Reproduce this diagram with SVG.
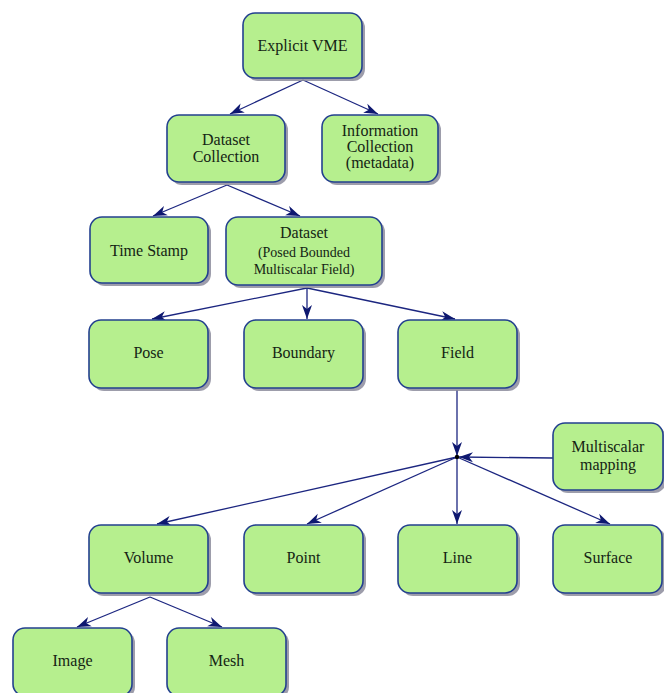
<svg xmlns="http://www.w3.org/2000/svg" width="664" height="693" viewBox="0 0 664 693">
<style>
.sh{fill:#8c8c9c;opacity:0.85}
.bx{fill:#b6ef8e;stroke:#23408f;stroke-width:1.6}
.t{font-family:"Liberation Serif","Times New Roman",serif;font-size:16px;fill:#142414;text-anchor:middle}
.s{font-size:14px}
.c{fill:none;stroke:#1c2680;stroke-width:1.3}
</style>
<defs>
<marker id="ah" markerUnits="userSpaceOnUse" markerWidth="16" markerHeight="12" refX="14" refY="6" orient="auto">
<path d="M0,1 L14,6 L0,11 L4,6 z" fill="#0e1870"/>
</marker>
</defs>
<rect width="664" height="693" fill="#ffffff"/>
<g id="connectors">
<path class="c" d="M303,80 L230,114" marker-end="url(#ah)"/>
<path class="c" d="M303,80 L378,114" marker-end="url(#ah)"/>
<path class="c" d="M227,185 L153,216" marker-end="url(#ah)"/>
<path class="c" d="M227,185 L300,216" marker-end="url(#ah)"/>
<path class="c" d="M307,288 L152,319" marker-end="url(#ah)"/>
<path class="c" d="M307,288 L307,319" marker-end="url(#ah)"/>
<path class="c" d="M307,288 L455,319" marker-end="url(#ah)"/>
<path class="c" d="M457,390 L457,456" marker-end="url(#ah)"/>
<path class="c" d="M553,458 L459,457" marker-end="url(#ah)"/>
<path class="c" d="M457,457 L157,524" marker-end="url(#ah)"/>
<path class="c" d="M457,457 L307,524" marker-end="url(#ah)"/>
<path class="c" d="M457,457 L457,524" marker-end="url(#ah)"/>
<path class="c" d="M457,457 L610,524" marker-end="url(#ah)"/>
<path class="c" d="M150,597 L77,627" marker-end="url(#ah)"/>
<path class="c" d="M150,597 L222,627" marker-end="url(#ah)"/>
<circle cx="457" cy="457" r="2.2" fill="#000"/>
</g>
<g id="explicit-vme">
<rect class="sh" x="246" y="16" width="119" height="65" rx="12"/>
<rect class="bx" x="243" y="13" width="119" height="65" rx="12"/>
<text class="t" x="302.5" y="51">Explicit VME</text>
</g>
<g id="dataset-collection">
<rect class="sh" x="170" y="118" width="118" height="67" rx="12"/>
<rect class="bx" x="167" y="115" width="118" height="67" rx="12"/>
<text class="t" x="226" y="145">Dataset</text>
<text class="t" x="226" y="162">Collection</text>
</g>
<g id="information-collection">
<rect class="sh" x="325" y="118" width="116" height="67" rx="12"/>
<rect class="bx" x="322" y="115" width="116" height="67" rx="12"/>
<text class="t" x="380" y="136">Information</text>
<text class="t" x="380" y="152">Collection</text>
<text class="t" x="380" y="168">(metadata)</text>
</g>
<g id="time-stamp">
<rect class="sh" x="93" y="220" width="118" height="66" rx="12"/>
<rect class="bx" x="90" y="217" width="118" height="66" rx="12"/>
<text class="t" x="149" y="256">Time Stamp</text>
</g>
<g id="dataset">
<rect class="sh" x="229" y="220" width="156" height="68" rx="12"/>
<rect class="bx" x="226" y="217" width="156" height="68" rx="12"/>
<text class="t" x="304" y="238">Dataset</text>
<text class="t s" x="304" y="257">(Posed Bounded</text>
<text class="t s" x="304" y="274">Multiscalar Field)</text>
</g>
<g id="pose">
<rect class="sh" x="92" y="323" width="119" height="68" rx="12"/>
<rect class="bx" x="89" y="320" width="119" height="68" rx="12"/>
<text class="t" x="148.5" y="358">Pose</text>
</g>
<g id="boundary">
<rect class="sh" x="247" y="323" width="119" height="68" rx="12"/>
<rect class="bx" x="244" y="320" width="119" height="68" rx="12"/>
<text class="t" x="303.5" y="358">Boundary</text>
</g>
<g id="field">
<rect class="sh" x="401" y="323" width="119" height="68" rx="12"/>
<rect class="bx" x="398" y="320" width="119" height="68" rx="12"/>
<text class="t" x="457.5" y="358">Field</text>
</g>
<g id="multiscalar-mapping">
<rect class="sh" x="556" y="426" width="110" height="67" rx="12"/>
<rect class="bx" x="553" y="423" width="110" height="67" rx="12"/>
<text class="t" x="608" y="452">Multiscalar</text>
<text class="t" x="608" y="470">mapping</text>
</g>
<g id="volume">
<rect class="sh" x="92" y="528" width="119" height="68" rx="12"/>
<rect class="bx" x="89" y="525" width="119" height="68" rx="12"/>
<text class="t" x="148.5" y="563">Volume</text>
</g>
<g id="point">
<rect class="sh" x="247" y="528" width="119" height="68" rx="12"/>
<rect class="bx" x="244" y="525" width="119" height="68" rx="12"/>
<text class="t" x="303.5" y="563">Point</text>
</g>
<g id="line">
<rect class="sh" x="401" y="528" width="119" height="68" rx="12"/>
<rect class="bx" x="398" y="525" width="119" height="68" rx="12"/>
<text class="t" x="457.5" y="563">Line</text>
</g>
<g id="surface">
<rect class="sh" x="556" y="528" width="110" height="68" rx="12"/>
<rect class="bx" x="553" y="525" width="109" height="68" rx="12"/>
<text class="t" x="608" y="563">Surface</text>
</g>
<g id="image">
<rect class="sh" x="16" y="631" width="119" height="68" rx="12"/>
<rect class="bx" x="13" y="628" width="119" height="68" rx="12"/>
<text class="t" x="72.5" y="666">Image</text>
</g>
<g id="mesh">
<rect class="sh" x="170" y="631" width="119" height="68" rx="12"/>
<rect class="bx" x="167" y="628" width="119" height="68" rx="12"/>
<text class="t" x="226.5" y="666">Mesh</text>
</g>
</svg>
